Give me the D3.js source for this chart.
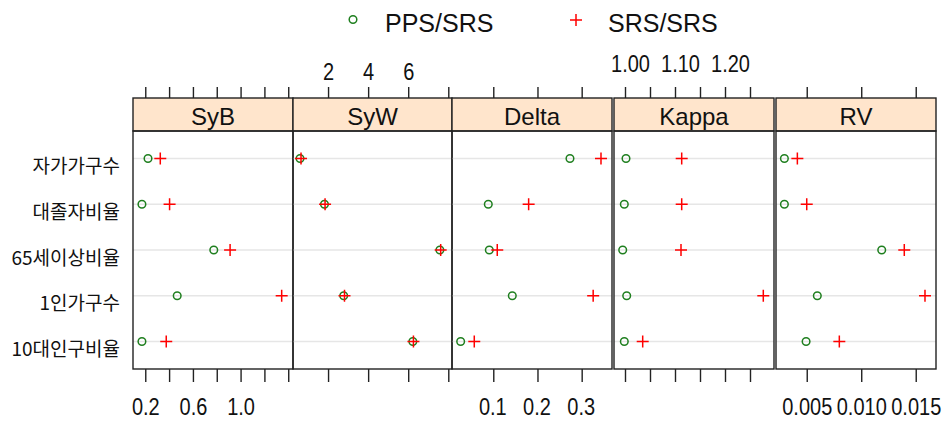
<!DOCTYPE html>
<html>
<head>
<meta charset="utf-8">
<script src="https://cdn.jsdelivr.net/npm/d3@7"></script>
<style>
  body { margin: 0; background: #fff; }
  svg { display: block; }
</style>
</head>
<body>
<svg id="chart" width="945" height="421"></svg>
<script>
// Indicators, listed top to bottom
const categories = ["자가가구수", "대졸자비율", "65세이상비율", "1인가구수", "10대인구비율"];
const panels = ["SyB", "SyW", "Delta", "Kappa", "RV"];
const seriesNames = ["PPS/SRS", "SRS/SRS"];

// Values per panel, same order as categories
const sybPPS   = [0.223, 0.172, 0.775, 0.468, 0.172];
const sybSRS   = [0.326, 0.404, 0.912, 1.345, 0.376];
const sywPPS   = [0.60, 1.82, 7.58, 2.78, 6.23];
const sywSRS   = [0.65, 1.85, 7.62, 2.82, 6.26];
const deltaPPS = [0.2735, 0.0887, 0.091, 0.143, 0.0262];
const deltaSRS = [0.3437, 0.180, 0.109, 0.326, 0.057];
const kappaPPS = [1.002, 0.9986, 0.9954, 1.0034, 0.9986];
const kappaSRS = [1.1134, 1.1134, 1.112, 1.2766, 1.0354];
const rvPPS    = [0.00295, 0.00295, 0.01188, 0.00597, 0.00494];
const rvSRS    = [0.00414, 0.0050, 0.01395, 0.01585, 0.00799];

// Axis limits (data units) for each panel
const sybLimits   = [0.097, 1.44];
const sywLimits   = [0.25, 8.185];
const deltaLimits = [0.0066, 0.3686];
const kappaLimits = [0.978, 1.298];
const rvLimits    = [0.00218, 0.01686];

// Tick positions and the subset that carries a label
const sybTicks    = [0.2, 0.4, 0.6, 0.8, 1.0, 1.2, 1.4];
const sybLabels   = [0.2, 0.6, 1.0];
const sywTicks    = [2, 4, 6, 8];
const sywLabels   = [2, 4, 6];
const deltaTicks  = [0.1, 0.2, 0.3];
const deltaLabels = [0.1, 0.2, 0.3];
const kappaTicks  = [1.00, 1.05, 1.10, 1.15, 1.20, 1.25];
const kappaLabels = [1.00, 1.10, 1.20];
const rvTicks     = [0.005, 0.010, 0.015];
const rvLabels    = [0.005, 0.010, 0.015];

// side: where the labels go; base: label baseline offset from the axis line; dx: label nudge
const panelData = [
  { name: panels[0], pps: sybPPS,   srs: sybSRS,   lim: sybLimits,   ticks: sybTicks,   labels: sybLabels,   fmt: d3.format(".1f"), side: "bottom", base: 46,    dx: 0 },
  { name: panels[1], pps: sywPPS,   srs: sywSRS,   lim: sywLimits,   ticks: sywTicks,   labels: sywLabels,   fmt: d3.format("d"),   side: "top",    base: -18,   dx: 0 },
  { name: panels[2], pps: deltaPPS, srs: deltaSRS, lim: deltaLimits, ticks: deltaTicks, labels: deltaLabels, fmt: d3.format(".1f"), side: "bottom", base: 46,    dx: -1 },
  { name: panels[3], pps: kappaPPS, srs: kappaSRS, lim: kappaLimits, ticks: kappaTicks, labels: kappaLabels, fmt: d3.format(".2f"), side: "top",    base: -26.5, dx: 5 },
  { name: panels[4], pps: rvPPS,    srs: rvSRS,    lim: rvLimits,    ticks: rvTicks,    labels: rvLabels,    fmt: d3.format(".3f"), side: "bottom", base: 46,    dx: 0 }
];

// Layout
const panelEdges = [[133, 293], [293, 452], [452, 612], [614, 774], [776, 936]];
const stripTop = 98, stripBottom = 131, panelBottom = 369;
const ppsColor = "#1f7f1f", srsColor = "#ff0000";
const latin = "'Liberation Sans', Arial, sans-serif";
const labelStretch = 1.15;

const svg = d3.select("#chart");

const y = d3.scalePoint()
  .domain(categories)
  .range([stripBottom, panelBottom])
  .padding(0.6);

// Row labels
svg.append("g").selectAll("text")
  .data(categories)
  .join("text")
  .attr("x", 120)
  .attr("y", d => y(d) + 6)
  .attr("text-anchor", "end")
  .attr("dominant-baseline", "central")
  .attr("font-family", "'Noto Sans CJK KR', sans-serif")
  .attr("font-size", 19)
  .attr("fill", "#111")
  .text(d => d);

const plusPath = "M-6,0H6M0,-6V6";

panelData.forEach((p, i) => {
  const [x0, x1] = panelEdges[i];
  const x = d3.scaleLinear().domain(p.lim).range([x0, x1]);
  const g = svg.append("g");

  // reference lines
  g.selectAll("line.ref")
    .data(categories)
    .join("line")
    .attr("class", "ref")
    .attr("x1", x0).attr("x2", x1)
    .attr("y1", d => y(d)).attr("y2", d => y(d))
    .attr("stroke", "#e6e6e6")
    .attr("stroke-width", 1.6);

  // strip
  g.append("rect")
    .attr("x", x0).attr("y", stripTop)
    .attr("width", x1 - x0).attr("height", stripBottom - stripTop)
    .attr("fill", "#ffe5cc")
    .attr("stroke", "#222").attr("stroke-width", 1.4);
  g.append("text")
    .attr("x", (x0 + x1) / 2)
    .attr("y", stripBottom - 6.5)
    .attr("text-anchor", "middle")
    .attr("font-family", latin)
    .attr("font-size", 24)
    .attr("fill", "#111")
    .text(p.name);

  // panel frame
  g.append("rect")
    .attr("x", x0).attr("y", stripBottom)
    .attr("width", x1 - x0).attr("height", panelBottom - stripBottom)
    .attr("fill", "none")
    .attr("stroke", "#222").attr("stroke-width", 1.4);

  // points
  g.selectAll("circle.pps")
    .data(categories)
    .join("circle")
    .attr("class", "pps")
    .attr("cx", (d, j) => x(p.pps[j]))
    .attr("cy", d => y(d))
    .attr("r", 3.8)
    .attr("fill", "none")
    .attr("stroke", ppsColor)
    .attr("stroke-width", 1.5);
  g.selectAll("path.srs")
    .data(categories)
    .join("path")
    .attr("class", "srs")
    .attr("transform", (d, j) => `translate(${x(p.srs[j])},${y(d)})`)
    .attr("d", plusPath)
    .attr("stroke", srsColor)
    .attr("stroke-width", 1.5);

  // axes: ticks on both sides, labels on one side
  const fmt = v => p.labels.some(l => Math.abs(l - v) < 1e-9) ? p.fmt(v) : "";
  const bottom = d3.axisBottom(x).tickValues(p.ticks).tickSize(13).tickSizeOuter(0)
    .tickFormat(p.side === "bottom" ? fmt : () => "");
  const top = d3.axisTop(x).tickValues(p.ticks).tickSize(11).tickSizeOuter(0)
    .tickFormat(p.side === "top" ? fmt : () => "");

  const gb = svg.append("g").attr("transform", `translate(0,${panelBottom})`).call(bottom);
  const gt = svg.append("g").attr("transform", `translate(0,${stripTop})`).call(top);
  [gb, gt].forEach(a => {
    a.select(".domain").remove();
    a.selectAll(".tick line").attr("stroke", "#222").attr("stroke-width", 1.4);
    a.selectAll(".tick text")
      .attr("font-family", latin)
      .attr("font-size", 20)
      .attr("fill", "#111")
      .attr("dy", null)
      .attr("x", p.dx / 1)
      .attr("y", p.base / labelStretch)
      .attr("transform", `scale(1,${labelStretch})`);
  });
});

// Legend
const legend = svg.append("g");
legend.append("circle")
  .attr("cx", 353).attr("cy", 19.5).attr("r", 3.8)
  .attr("fill", "none").attr("stroke", ppsColor).attr("stroke-width", 1.5);
legend.append("text")
  .attr("x", 385).attr("y", 31.5)
  .attr("font-family", latin).attr("font-size", 25).attr("fill", "#111")
  .text(seriesNames[0]);
legend.append("path")
  .attr("transform", "translate(576,20)")
  .attr("d", plusPath)
  .attr("stroke", srsColor).attr("stroke-width", 1.5);
legend.append("text")
  .attr("x", 608).attr("y", 31.5)
  .attr("font-family", latin).attr("font-size", 25).attr("fill", "#111")
  .text(seriesNames[1]);
</script>
</body>
</html>
